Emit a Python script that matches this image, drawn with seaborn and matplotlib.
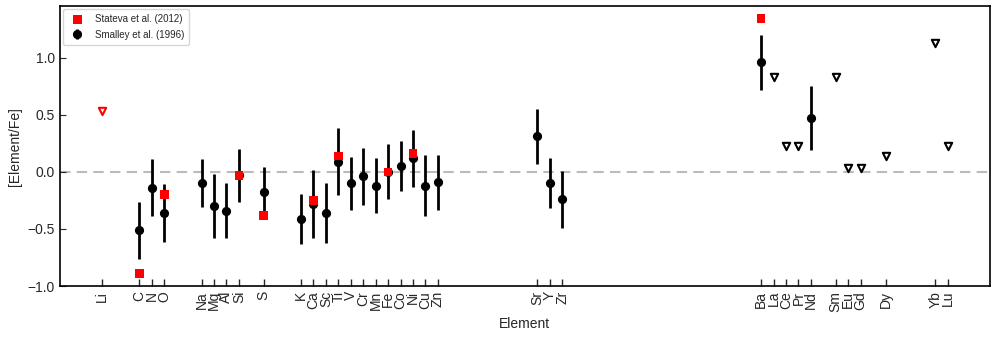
import matplotlib
matplotlib.use("Agg")
import matplotlib.pyplot as plt
import seaborn as sns
import pandas as pd
import numpy as np

# element symbols and atomic numbers used on the x axis
elements = ["Li", "C", "N", "O", "Na", "Mg", "Al", "Si", "S", "K", "Ca", "Sc", "Ti", "V",
            "Cr", "Mn", "Fe", "Co", "Ni", "Cu", "Zn", "Sr", "Y", "Zr", "Ba", "La", "Ce",
            "Pr", "Nd", "Sm", "Eu", "Gd", "Dy", "Yb", "Lu"]
atomic_z = [3, 6, 7, 8, 11, 12, 13, 14, 16, 19, 20, 21, 22, 23, 24, 25, 26, 27, 28, 29, 30,
            38, 39, 40, 56, 57, 58, 59, 60, 62, 63, 64, 66, 70, 71]

# Smalley et al. (1996): measured abundances with errors
smalley_el = ["C", "N", "O", "Na", "Mg", "Al", "Si", "S", "K", "Ca", "Sc", "Ti", "V", "Cr",
              "Mn", "Fe", "Co", "Ni", "Cu", "Zn", "Sr", "Y", "Zr", "Ba", "Nd"]
smalley_val = [-0.51, -0.14, -0.36, -0.10, -0.30, -0.34, -0.03, -0.18, -0.41, -0.28, -0.36,
               0.09, -0.10, -0.04, -0.12, 0.00, 0.05, 0.12, -0.12, -0.09, 0.31, -0.10,
               -0.24, 0.96, 0.47]
smalley_err = [0.25, 0.25, 0.25, 0.21, 0.28, 0.24, 0.23, 0.22, 0.22, 0.30, 0.26, 0.29, 0.23,
               0.25, 0.24, 0.24, 0.22, 0.25, 0.27, 0.24, 0.24, 0.22, 0.25, 0.24, 0.28]

# Smalley et al. (1996): upper limits
smalley_lim_el = ["La", "Ce", "Pr", "Sm", "Eu", "Gd", "Dy", "Yb", "Lu"]
smalley_lim_val = [0.83, 0.23, 0.23, 0.83, 0.035, 0.035, 0.135, 1.13, 0.23]

# Stateva et al. (2012)
stateva_el = ["C", "O", "Si", "S", "Ca", "Ti", "Fe", "Ni", "Ba"]
stateva_val = [-0.89, -0.20, -0.03, -0.38, -0.25, 0.14, 0.00, 0.16, 1.34]
stateva_lim_el = ["Li"]
stateva_lim_val = [0.53]

zmap = dict(zip(elements, atomic_z))
smalley = pd.DataFrame({"z": [zmap[e] for e in smalley_el], "val": smalley_val, "err": smalley_err})
smalley_lim = pd.DataFrame({"z": [zmap[e] for e in smalley_lim_el], "val": smalley_lim_val})
stateva = pd.DataFrame({"z": [zmap[e] for e in stateva_el], "val": stateva_val})
stateva_lim = pd.DataFrame({"z": [zmap[e] for e in stateva_lim_el], "val": stateva_lim_val})

sns.set_style("white")
plt.rcParams["font.family"] = ["Liberation Sans", "DejaVu Sans"]

fig, ax = plt.subplots(figsize=(9.96, 3.39), dpi=100)
fig.subplots_adjust(left=0.060, right=0.994, bottom=0.156, top=0.982)

ax.axhline(0, color="#bbbbbb", ls=(0, (5, 3)), lw=1.5, zorder=0)

ax.errorbar(smalley["z"], smalley["val"], yerr=smalley["err"], fmt="o", color="black",
            ms=5.6, elinewidth=2, capsize=0, zorder=3, label="Smalley et al. (1996)")
sns.scatterplot(data=smalley_lim, x="z", y="val", ax=ax, marker="v", s=28,
                facecolor="white", edgecolor="black", linewidth=1.5, zorder=3)
sns.scatterplot(data=stateva, x="z", y="val", ax=ax, marker="s", s=38, color="red",
                edgecolor="none", zorder=4, label="Stateva et al. (2012)")
sns.scatterplot(data=stateva_lim, x="z", y="val", ax=ax, marker="v", s=28,
                facecolor="white", edgecolor="red", linewidth=1.5, zorder=3)

ax.set_xlim(-0.4, 74.4)
ax.set_ylim(-1.0, 1.45)
ax.set_xticks(atomic_z)
ax.set_xticklabels(elements, rotation=90, fontsize=10)
ax.set_yticks([-1.0, -0.5, 0.0, 0.5, 1.0])
ax.tick_params(axis="y", direction="in", length=4, labelsize=10, left=True)
ax.tick_params(axis="x", direction="in", length=5, width=1, bottom=True)
for s in ax.spines.values():
    s.set_color("black")
    s.set_linewidth(1.2)

ax.set_xlabel("Element", fontsize=10)
ax.set_ylabel("[Element/Fe]", fontsize=10)

handles, labels = ax.get_legend_handles_labels()
order = [labels.index("Stateva et al. (2012)"), labels.index("Smalley et al. (1996)")]
ax.legend([handles[i] for i in order], [labels[i] for i in order], loc="upper left",
          fontsize=7, frameon=True, borderaxespad=0.3, handletextpad=0.8,
          labelspacing=0.6, borderpad=0.5)

plt.savefig("out.png", dpi=100)
